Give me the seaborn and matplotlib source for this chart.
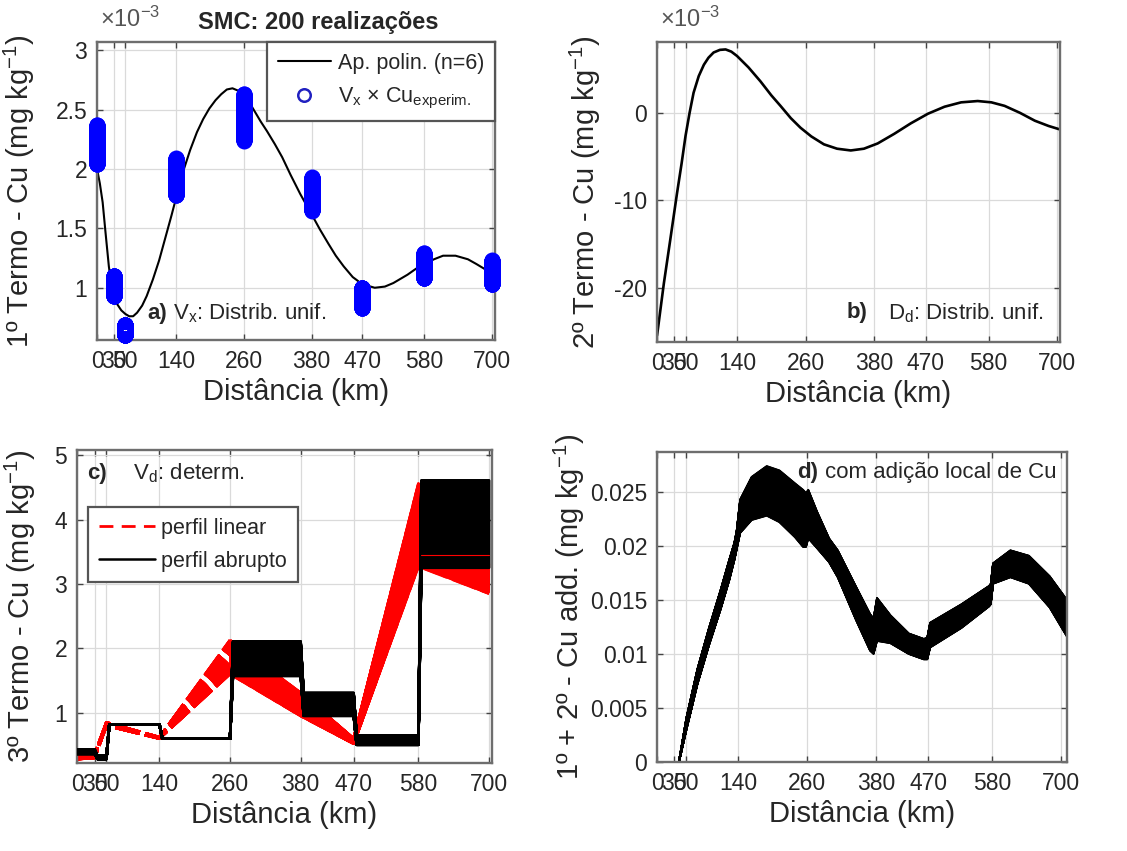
import numpy as np
import matplotlib
matplotlib.use("Agg")
import matplotlib.pyplot as plt
from matplotlib.lines import Line2D
import seaborn as sns

# ---------------- data ----------------
N_REAL = 200  # Monte Carlo realizations

x_ticks = [0, 30, 50, 140, 260, 380, 470, 580, 700]
x_ticklabels = ["0", "30", "50", "140", "260", "380", "470", "580", "700"]
x_max = 705

# panel a (x 1e-3)
a_sites = [0, 30, 50, 140, 260, 380, 470, 580, 700]
a_min = [2.04, 0.93, 0.60, 1.78, 2.24, 1.65, 0.83, 1.08, 1.03]
a_max = [2.37, 1.10, 0.69, 2.09, 2.63, 1.93, 1.00, 1.29, 1.23]
a_fit_x = [0, 5, 10, 15, 21, 25, 29, 36, 43, 50, 57, 64, 71, 80, 88, 99, 110, 121,
           132, 143, 154, 165, 177, 188, 199, 210, 220, 230, 240, 250, 260, 270,
           280, 290, 301, 315, 328, 343, 360, 380, 395, 410, 423, 437, 453, 470,
           492, 510, 525, 550, 565, 580, 597, 613, 635, 657, 672, 686, 705]
a_fit_y = [2.00, 1.88, 1.72, 1.47, 1.18, 1.04, 0.95, 0.86, 0.81, 0.78, 0.76, 0.76,
           0.79, 0.85, 0.93, 1.07, 1.23, 1.42, 1.61, 1.81, 2.00, 2.16, 2.31, 2.42,
           2.51, 2.58, 2.63, 2.67, 2.68, 2.66, 2.62, 2.56, 2.48, 2.40, 2.32, 2.21,
           2.10, 1.95, 1.79, 1.62, 1.49, 1.37, 1.27, 1.18, 1.09, 1.03, 1.00, 1.01,
           1.04, 1.11, 1.16, 1.20, 1.24, 1.27, 1.27, 1.24, 1.20, 1.16, 1.08]

# panel b (x 1e-3)
b_x = [0, 6, 12, 23, 35, 43, 50, 57, 64, 73, 82, 90, 99, 110, 120, 130, 140, 160,
       181, 200, 216, 234, 251, 270, 292, 315, 339, 362, 386, 415, 444, 474, 503,
       532, 561, 585, 608, 635, 661, 685, 705]
b_y = [-25.5, -22.5, -19.5, -14.6, -9.2, -5.8, -2.6, 0.0, 2.3, 4.2, 5.5, 6.3, 6.9,
       7.2, 7.25, 7.0, 6.5, 5.2, 3.6, 2.0, 0.8, -0.6, -1.7, -2.7, -3.6, -4.1, -4.3,
       -4.1, -3.5, -2.4, -1.2, -0.1, 0.7, 1.2, 1.35, 1.2, 0.8, 0.0, -0.9, -1.5, -1.9]

# panel c: nodes, linear profile (node values) and abrupt profile (segment values)
c_nodes = [0, 30, 50, 140, 260, 380, 470, 580, 700]
lin_min = [0.28, 0.30, 0.80, 0.60, 1.60, 0.95, 0.52, 3.27, 2.85]
lin_max = [0.35, 0.36, 0.85, 0.62, 2.13, 1.31, 0.60, 4.56, 3.30]
abr_min = [0.36, 0.28, 0.82, 0.60, 1.57, 0.95, 0.50, 3.25]
abr_max = [0.43, 0.33, 0.82, 0.60, 2.11, 1.31, 0.65, 4.61]
step_km = 5
lin_ref_x = [585, 700]
lin_ref_y = [3.45, 3.45]

# panel d: envelope of the realizations
d_x = [0, 38, 51, 70, 90, 110, 125, 134, 138, 144, 164, 190, 212, 239, 253, 258,
       262, 277, 298, 313, 345, 369, 375, 381, 404, 436, 462, 468, 473, 527, 575,
       578, 582, 612, 644, 680, 710]
d_lo = [0, 0, 0.0030, 0.0072, 0.0108, 0.0141, 0.0168, 0.0187, 0.0197, 0.0212,
        0.0224, 0.0228, 0.0222, 0.0208, 0.0199, 0.0199, 0.0207, 0.0198, 0.0185,
        0.0171, 0.0131, 0.0103, 0.0100, 0.0112, 0.0110, 0.0100, 0.0095, 0.0095,
        0.0106, 0.0124, 0.0144, 0.0146, 0.0165, 0.0171, 0.0165, 0.0143, 0.0116]
d_hi = [0, 0, 0.0041, 0.0086, 0.0124, 0.0159, 0.0187, 0.0203, 0.0214, 0.0243,
        0.0264, 0.0274, 0.0270, 0.0258, 0.0252, 0.0249, 0.0252, 0.0232, 0.0207,
        0.0196, 0.0162, 0.0137, 0.0133, 0.0152, 0.0136, 0.0119, 0.0114, 0.0115,
        0.0129, 0.0146, 0.0163, 0.0165, 0.0184, 0.0196, 0.0191, 0.0172, 0.0150]

# ---------------- style ----------------
sns.set_theme(style="whitegrid")
plt.rcParams['font.family'] = ['Liberation Sans', 'DejaVu Sans']
plt.rcParams['mathtext.default'] = 'regular'

W, H = 1127, 851
fig = plt.figure(figsize=(W / 100, H / 100), dpi=100)
fig.patch.set_facecolor('white')


def box(l, t, r, b):
    return [l / W, 1 - b / H, (r - l) / W, (b - t) / H]


ax_a = fig.add_axes(box(97, 42, 495, 340))
ax_b = fig.add_axes(box(657, 42, 1060, 342))
ax_c = fig.add_axes(box(77, 450, 492, 763))
ax_d = fig.add_axes(box(657, 452, 1067, 762))

GRID = '#dadada'
EDGE = '#6e6e6e'
TXT = '#262626'
TICK_FS = 16.5
LAB_FS = 21
ANN_FS = 16
LEG_FS = 15.5


def style(ax, ylim, yticks, yticklabels, ylabel, ylab_x):
    ax.set_facecolor('white')
    ax.set_xlim(0, x_max)
    ax.set_ylim(*ylim)
    ax.set_xticks(x_ticks)
    ax.set_xticklabels(x_ticklabels)
    ax.set_yticks(yticks)
    ax.set_yticklabels(yticklabels)
    ax.grid(True, color=GRID, lw=0.9)
    ax.set_axisbelow(True)
    for s in ax.spines.values():
        s.set_visible(True)
        s.set_color(EDGE)
        s.set_linewidth(1.7)
    ax.tick_params(direction='in', length=4, width=1, color='#444444',
                   bottom=True, left=True, top=True, right=True,
                   labelsize=TICK_FS, labelcolor=TXT, pad=7)
    ax.set_xlabel('Distância (km)', fontsize=LAB_FS, color=TXT, labelpad=4)
    ax.set_ylabel(ylabel, fontsize=LAB_FS, color=TXT)
    ax.yaxis.set_label_coords(ylab_x, 0.5)


frac = np.linspace(0, 1, N_REAL)

# ---------------- panel a ----------------
sns.lineplot(x=a_fit_x, y=a_fit_y, ax=ax_a, color='black', lw=1.5, sort=False, zorder=2)
for xs, lo, hi in zip(a_sites, a_min, a_max):
    ys = lo + frac * (hi - lo)
    ax_a.plot(np.full_like(ys, xs), ys, 'o', ms=10, mfc='none', mec='blue', mew=1.5,
              clip_on=False, zorder=3)
style(ax_a, (0.56, 3.07), [1, 1.5, 2, 2.5, 3], ["1", "1.5", "2", "2.5", "3"],
      '1º Termo - Cu (mg kg$^{-1}$)', -0.15)
h_a = [Line2D([0], [0], color='black', lw=1.5),
       Line2D([0], [0], marker='o', color='none', mec='#2020c0', mfc='none', ms=9, mew=1.8)]
leg = ax_a.legend(h_a, ['Ap. polin. (n=6)', 'V$_{x}$ × Cu$_{experim.}$'],
                  loc='upper right', bbox_to_anchor=(1, 1), borderaxespad=0,
                  frameon=True, fancybox=False, edgecolor='#555555', framealpha=1,
                  fontsize=LEG_FS, handlelength=2.5, borderpad=0.5, labelspacing=0.55,
                  handletextpad=0.3)
leg.get_frame().set_linewidth(1.6)
leg.set_zorder(5)
ax_a.text(0.126, 0.09, 'a)', transform=ax_a.transAxes, fontsize=ANN_FS,
          fontweight='bold', va='center', ha='left', color=TXT)
ax_a.text(0.19, 0.09, 'V$_{x}$: Distrib. unif.', transform=ax_a.transAxes,
          fontsize=ANN_FS, va='center', ha='left', color=TXT)
fig.text(100 / W, 1 - 19 / H, '×10$^{-3}$', fontsize=17, color='#555555',
         ha='left', va='center')
fig.text(318 / W, 1 - 22 / H, 'SMC: 200 realizações', fontsize=17,
         fontweight='bold', ha='center', va='center', color=TXT)

# ---------------- panel b ----------------
sns.lineplot(x=b_x, y=b_y, ax=ax_b, color='black', lw=1.9, sort=False)
style(ax_b, (-26.2, 8.1), [-20, -10, 0], ["-20", "-10", "0"],
      '2º Termo - Cu (mg kg$^{-1}$)', -0.135)
ax_b.text(0.471, 0.097, 'b)', transform=ax_b.transAxes, fontsize=ANN_FS,
          fontweight='bold', va='center', ha='left', color=TXT)
ax_b.text(0.573, 0.097, 'D$_{d}$: Distrib. unif.', transform=ax_b.transAxes,
          fontsize=ANN_FS, va='center', ha='left', color=TXT)
fig.text(660 / W, 1 - 19 / H, '×10$^{-3}$', fontsize=17, color='#555555',
         ha='left', va='center')

# ---------------- panel c ----------------
lin_min_a = np.array(lin_min)
lin_max_a = np.array(lin_max)
split = c_nodes.index(260)
DASH = (9, 2)
period = sum(DASH)
for k, f in enumerate(frac):
    ys = lin_min_a + f * (lin_max_a - lin_min_a)
    # first stretch: realizations share the dash phase
    ax_c.plot(c_nodes[:split + 1], ys[:split + 1], color='red', lw=2.0,
              linestyle=(0, DASH), zorder=2)
    # after 260 km the dash phase differs between realizations
    ax_c.plot(c_nodes[split:], ys[split:], color='red', lw=2.0,
              linestyle=((k * 3.7) % period, DASH), zorder=2)

abr_x = []
for i in range(len(abr_min)):
    start = c_nodes[i] + (step_km if i > 0 else 0)
    abr_x += [start, c_nodes[i + 1]]
abr_min_a = np.repeat(abr_min, 2)
abr_max_a = np.repeat(abr_max, 2)
for f in frac:
    ys = abr_min_a + f * (abr_max_a - abr_min_a)
    ax_c.plot(abr_x, ys, color='black', lw=1.8, zorder=3)
ax_c.plot(lin_ref_x, lin_ref_y, color='red', lw=0.8, zorder=4)

style(ax_c, (0.22, 5.08), [1, 2, 3, 4, 5], ["1", "2", "3", "4", "5"],
      '3º Termo - Cu (mg kg$^{-1}$)', -0.095)
h_c = [Line2D([0], [0], color='red', lw=2.0, dashes=(5, 3)),
       Line2D([0], [0], color='black', lw=1.8)]
leg_c = ax_c.legend(h_c, ['perfil linear', 'perfil abrupto'],
                    loc='upper left', bbox_to_anchor=(0.027, 0.818), borderaxespad=0,
                    frameon=True, fancybox=False, edgecolor='#555555', framealpha=1,
                    fontsize=LEG_FS, handlelength=2.6, borderpad=0.5, labelspacing=0.55,
                    handletextpad=0.3)
leg_c.get_frame().set_linewidth(1.6)
leg_c.set_zorder(5)
ax_c.text(0.024, 0.926, 'c)', transform=ax_c.transAxes, fontsize=ANN_FS,
          fontweight='bold', va='center', ha='left', color=TXT)
ax_c.text(0.135, 0.926, 'V$_{d}$: determ.', transform=ax_c.transAxes,
          fontsize=ANN_FS, va='center', ha='left', color=TXT)

# ---------------- panel d ----------------
d_lo_a = np.array(d_lo)
d_hi_a = np.array(d_hi)
for f in frac:
    ys = d_lo_a + f * (d_hi_a - d_lo_a)
    ax_d.plot(d_x, ys, color='black', lw=1.3, zorder=2)
style(ax_d, (0, 0.0287), [0, 0.005, 0.01, 0.015, 0.02, 0.025],
      ["0", "0.005", "0.01", "0.015", "0.02", "0.025"],
      '1º + 2º - Cu add. (mg kg$^{-1}$)', -0.17)
ax_d.set_xlim(0, 710)
ax_d.text(0.341, 0.935, 'd)', transform=ax_d.transAxes, fontsize=ANN_FS,
          fontweight='bold', va='center', ha='left', color=TXT)
ax_d.text(0.41, 0.935, 'com adição local de Cu', transform=ax_d.transAxes,
          fontsize=ANN_FS, va='center', ha='left', color=TXT)

fig.savefig('out.png', dpi=100, facecolor='white')
